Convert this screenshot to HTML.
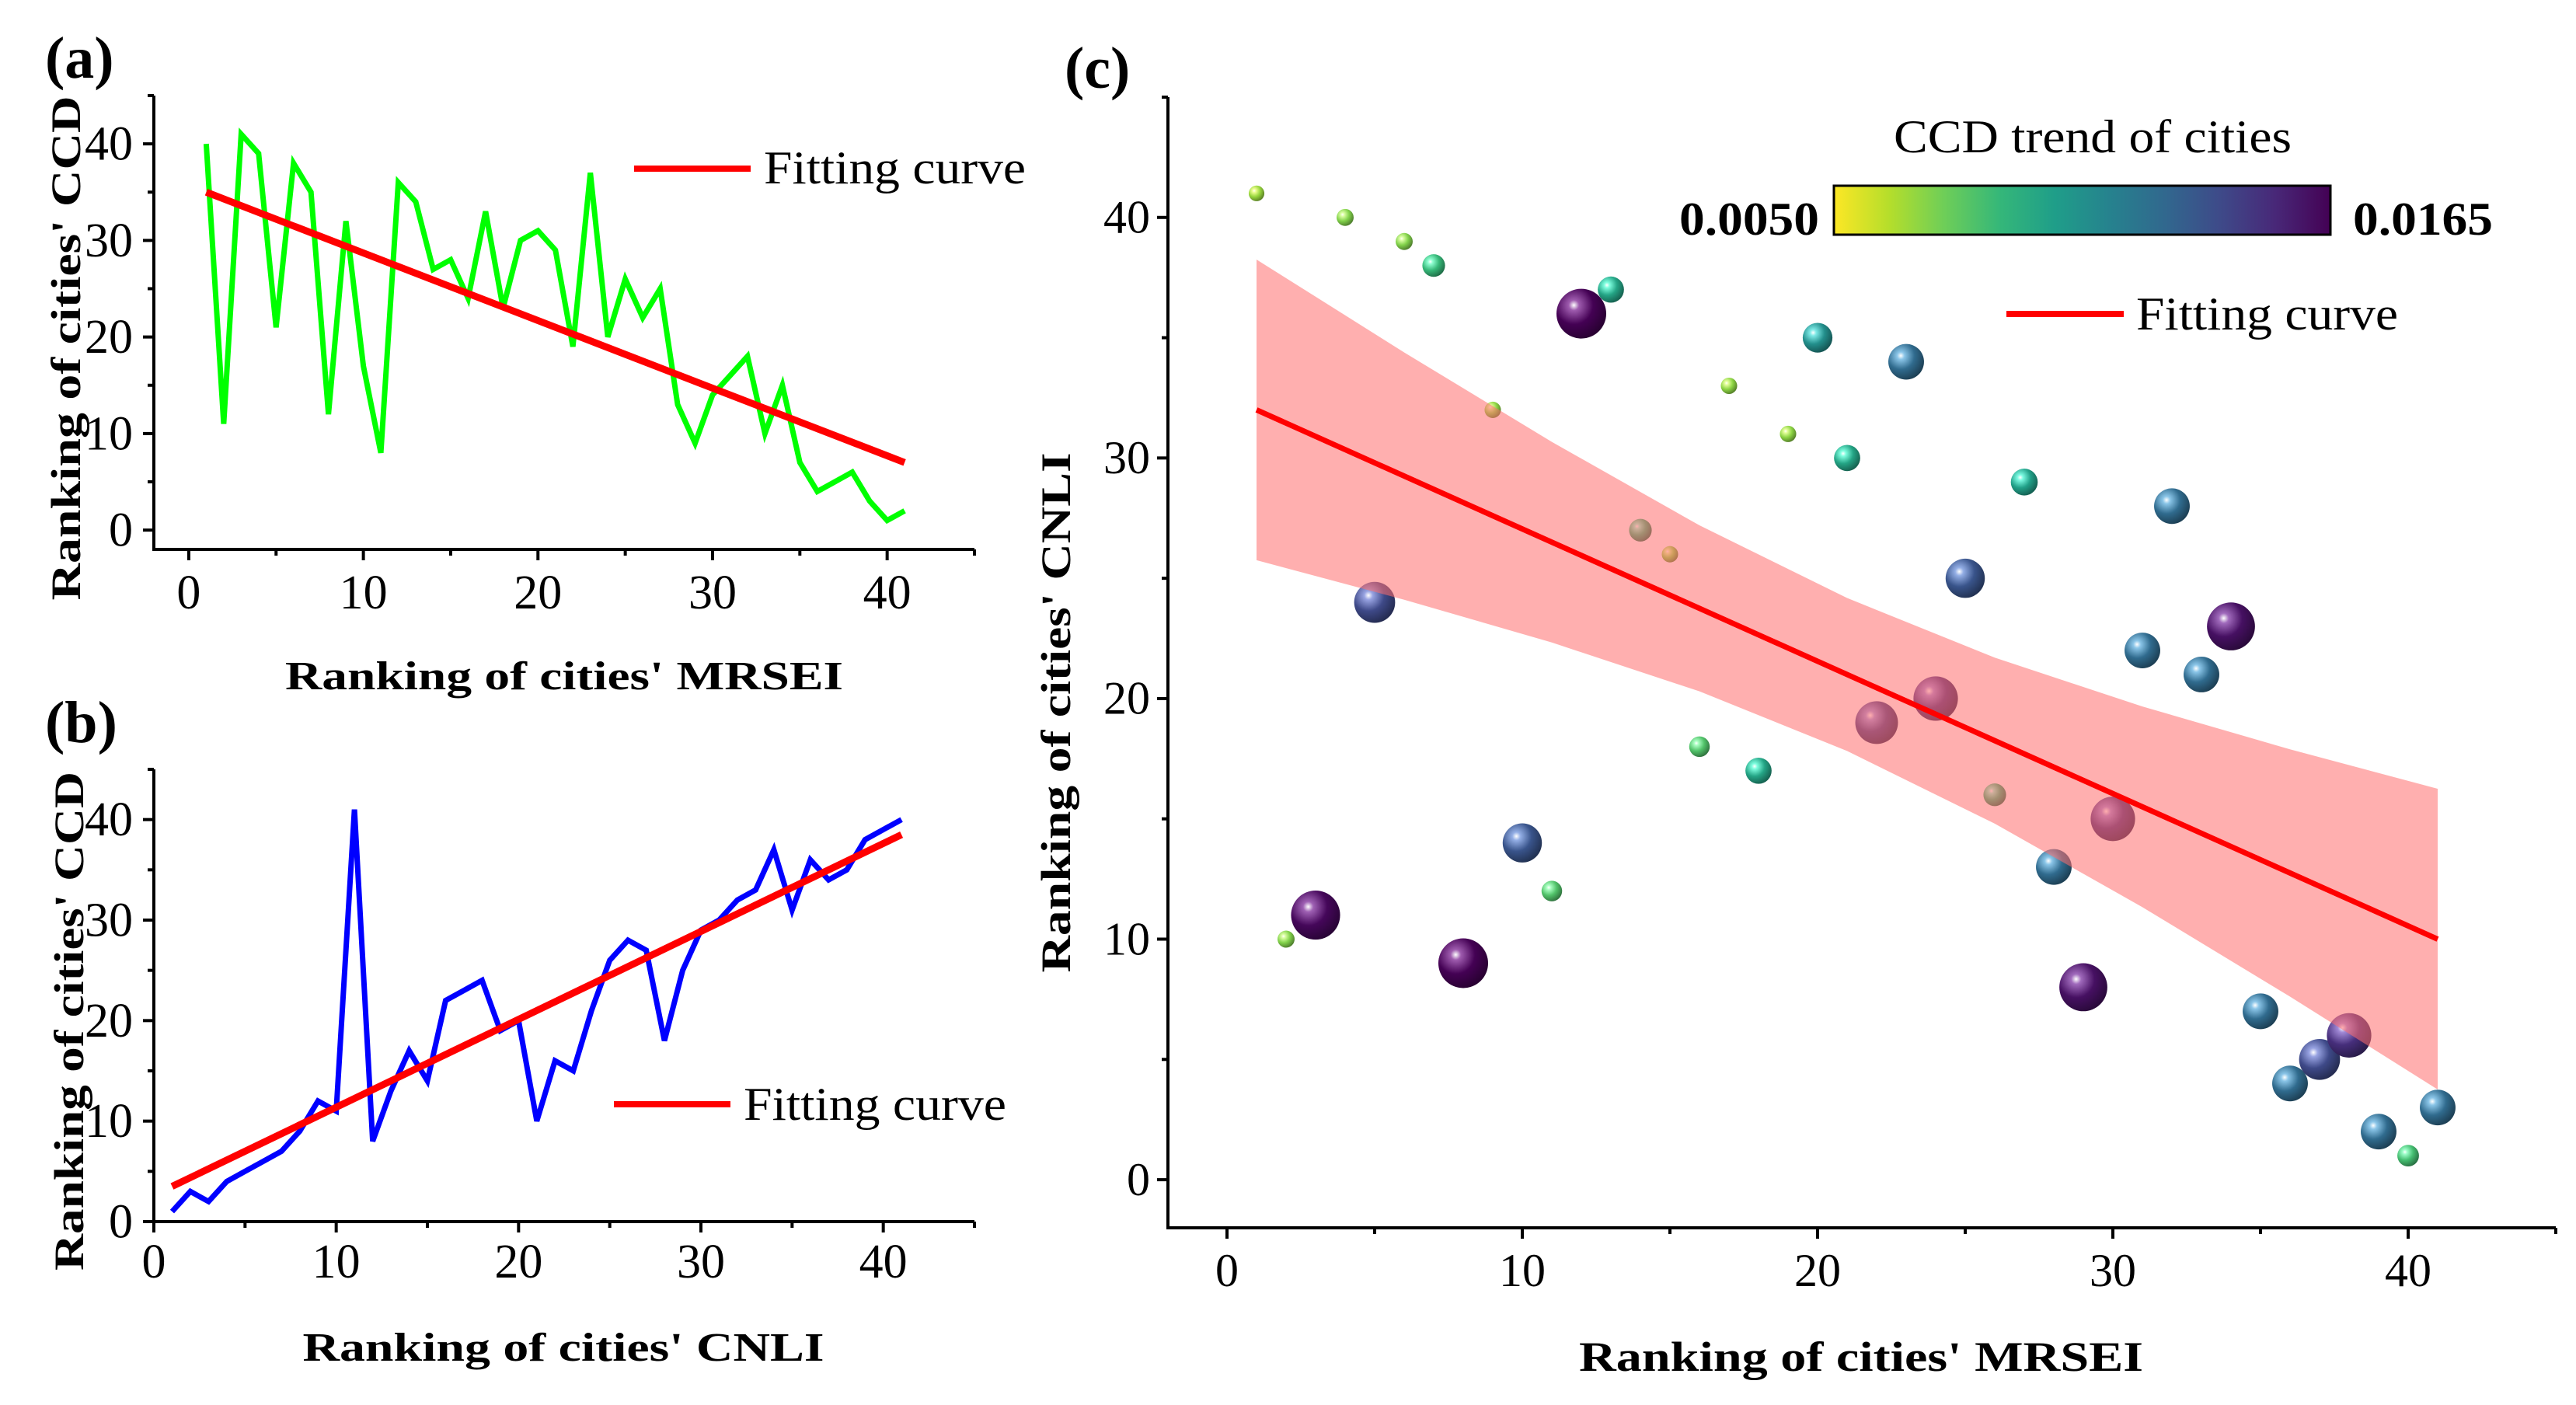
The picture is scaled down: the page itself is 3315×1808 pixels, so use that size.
<!DOCTYPE html>
<html><head><meta charset="utf-8"><style>
html,body{margin:0;padding:0;background:#fff;}
svg{display:block;}
text{font-family:"Liberation Serif",serif;fill:#000;}
</style></head><body>
<svg id="fig" width="3315" height="1808" viewBox="0 0 3315 1808" xmlns="http://www.w3.org/2000/svg">
<defs id="defs"></defs>
</svg>
<script>
// ---- data ----
const xRank = Array.from({length:41},(_, i)=>i+1);
const ccdVsMrsei = [40,11,41,39,21,38,35,12,32,17,8,36,34,27,28,24,33,23,30,31,29,19,37,20,26,22,25,13,9,14,16,18,10,15,7,4,5,6,3,1,2];
const fitA = [[1,35],[41,7]];
const ccdVsCnli = [1,3,2,4,5,6,7,9,12,11,41,8,13,17,14,22,23,24,19,20,10,16,15,21,26,28,27,18,25,29,30,32,33,37,31,36,34,35,38,39,40];
const fitB = [[1,3.5],[41,38.5]];
const cnliRank = [41,10,11,40,24,39,38,9,32,14,12,36,37,27,26,18,33,17,31,35,30,19,34,20,25,16,29,13,8,15,22,28,21,23,7,4,5,6,2,1,3];
const ccdTrend = [0.0068,0.0072,0.0163,0.0072,0.0140,0.0072,0.0088,0.0165,0.0070,0.0135,0.0082,0.0165,0.0098,0.0088,0.0070,0.0082,0.0070,0.0098,0.0070,0.0108,0.0098,0.0145,0.0125,0.0150,0.0135,0.0088,0.0100,0.0125,0.0160,0.0150,0.0125,0.0125,0.0125,0.0160,0.0125,0.0125,0.0140,0.0150,0.0125,0.0085,0.0125];
const fitC = [[1,32],[41,10]];
const bandX = [1,6,11,16,21,26,31,36,41];
const bandLow = [25.75,24.11,22.33,20.30,17.82,14.80,11.33,7.61,3.75];
const bandHigh = [38.25,34.39,30.67,27.20,24.18,21.70,19.67,17.89,16.25];
const tickVals = [0,10,20,30,40];
const minorVals = [5,15,25,35,45];

const NS="http://www.w3.org/2000/svg";
const svg=document.getElementById('fig');
const defs=document.getElementById('defs');
function el(tag,attrs,parent){const e=document.createElementNS(NS,tag);for(const k in attrs)e.setAttribute(k,attrs[k]);(parent||svg).appendChild(e);return e;}
function txt(str,attrs,parent){const e=el('text',attrs,parent);e.setAttribute('font-family','Liberation Serif, serif');e.textContent=str;return e;}

function scale(d0,d1,r0,r1){return v=>r0+(v-d0)/(d1-d0)*(r1-r0);}

function axes(g,X,Y,x0,x1,y0,y1,xd,yd,opt){
  const ax=el('line',{x1:X(xd[0]),y1:Y(yd[0]),x2:X(xd[1]),y2:Y(yd[0]),stroke:'#000','stroke-width':4},g);
  
  const ay=el('line',{x1:X(xd[0]),y1:Y(yd[0])+2,x2:X(xd[0]),y2:Y(yd[1]),stroke:'#000','stroke-width':4},g);
  
  tickVals.forEach(v=>{
    const t=el('line',{x1:X(v),x2:X(v),y1:Y(yd[0]),y2:Y(yd[0])+14,stroke:'#000','stroke-width':4},g);
    
    const l=txt(String(v),{x:X(v),y:opt.xlab,'text-anchor':'middle','font-size':opt.fs},g);
    
    const t2=el('line',{x1:X(xd[0]),x2:X(xd[0])-14,y1:Y(v),y2:Y(v),stroke:'#000','stroke-width':4},g);
    
    const l2=txt(String(v),{x:opt.ylab,y:Y(v)+opt.fs*0.33,'text-anchor':'end','font-size':opt.fs},g);
    
  });
  minorVals.forEach(v=>{
    if(v<=xd[1]){const t=el('line',{x1:X(v),x2:X(v),y1:Y(yd[0]),y2:Y(yd[0])+8,stroke:'#000','stroke-width':4},g);
    }
    if(v<=yd[1]){const t=el('line',{x1:X(xd[0]),x2:X(xd[0])-8,y1:Y(v),y2:Y(v),stroke:'#000','stroke-width':4},g);
    }
  });
}
function title(str,x,y,len,fs,rot,name,g){
  const t=txt(str,{x:x,y:y,'font-size':fs,'font-weight':'bold',textLength:len,lengthAdjust:'spacingAndGlyphs','text-anchor':'middle'},g);
  if(rot)t.setAttribute('transform',`rotate(-90 ${x} ${y})`);
  
}
function legendFit(g,lx0,lx1,ly,tx,ty,tlen){
  const lg=el('g',{},g);
  el('line',{x1:lx0,x2:lx1,y1:ly,y2:ly,stroke:'#ff0000','stroke-width':8},lg);
  txt('Fitting curve',{x:tx,y:ty,'font-size':60,textLength:tlen,lengthAdjust:'spacingAndGlyphs'},lg);
}
function line(g,X,Y,xs,ys,color,w,name){
  const p=el('polyline',{points:xs.map((x,i)=>X(x)+','+Y(ys[i])).join(' '),fill:'none',stroke:color,'stroke-width':w,'stroke-linejoin':'miter'},g);
  
}

// ---- panel a ----
{
const g=el('g',{});
const X=scale(-2,45,198,1254), Y=scale(-2,45,707,123);
axes(g,X,Y,0,0,0,0,[-2,45],[-2,45],{fs:62,xlab:783,ylab:171});
line(g,X,Y,xRank,ccdVsMrsei,'#00ff00',7,'ccd-mrsei-line');
line(g,X,Y,fitA.map(p=>p[0]),fitA.map(p=>p[1]),'#ff0000',9,'fitting-curve-a');
legendFit(g,816,966,217,983,236,337);
title("Ranking of cities' MRSEI",726,887,718,52,false,'x-axis-title-a',g);
title("Ranking of cities' CCD",103,448,649,54,true,'y-axis-title-a',g);
const l=txt('(a)',{x:58,y:100,'font-size':76,'font-weight':'bold'},g);
}
// ---- panel b ----
{
const g=el('g',{});
const X=scale(0,45,198,1254), Y=scale(0,45,1572,990);
axes(g,X,Y,0,0,0,0,[0,45],[0,45],{fs:62,xlab:1644,ylab:171});
line(g,X,Y,xRank,ccdVsCnli,'#0000ff',7,'ccd-cnli-line');
line(g,X,Y,fitB.map(p=>p[0]),fitB.map(p=>p[1]),'#ff0000',9,'fitting-curve-b');
legendFit(g,790,940,1421,957,1441,338);
title("Ranking of cities' CNLI",725,1751,671,52,false,'x-axis-title-b',g);
title("Ranking of cities' CCD",107,1314,642,54,true,'y-axis-title-b',g);
const l=txt('(b)',{x:58,y:955,'font-size':76,'font-weight':'bold'},g);
}
// ---- panel c ----
const vir=[[253,231,37],[181,222,43],[110,206,88],[53,183,121],[31,158,137],[38,130,142],[49,104,142],[62,74,137],[72,40,120],[68,1,84]];
function vcol(t){const f=Math.max(0,Math.min(1,(t-0.005)/0.0115))*(vir.length-1);const i=Math.min(vir.length-2,Math.floor(f));const u=f-i;
 return vir[i].map((c,k)=>Math.round(c+(vir[i+1][k]-c)*u));}
{
const g=el('g',{});
const X=scale(-2,45,1503,3289), Y=scale(-2,45,1580,125);
axes(g,X,Y,0,0,0,0,[-2,45],[-2,45],{fs:60,xlab:1655,ylab:1480});
cnliRank.forEach((y,i)=>{
  const t=ccdTrend[i];const c=vcol(t);
  const gid='sph'+i;
  const rg=el('radialGradient',{id:gid,cx:'0.35',cy:'0.33',r:'0.7'},defs);
  el('stop',{offset:'0','stop-color':'#ffffff'},rg);
  el('stop',{offset:'0.15','stop-color':`rgb(${c.map(v=>Math.min(255,v+90)).join(',')})`},rg);
  el('stop',{offset:'0.55','stop-color':`rgb(${c.join(',')})`},rg);
  el('stop',{offset:'1','stop-color':`rgb(${c.map(v=>Math.round(v*0.6)).join(',')})`},rg);
  const r=6+(t-0.005)/0.0115*26;
  const p=el('circle',{cx:X(xRank[i]),cy:Y(y),r:r,fill:`url(#${gid})`},g);
  
});
const pts=bandX.map((x,i)=>X(x)+','+Y(bandHigh[i])).concat(bandX.slice().reverse().map((x,j)=>X(x)+','+Y(bandLow[bandX.length-1-j])));
const band=el('polygon',{points:pts.join(' '),fill:'#ff6e6e','fill-opacity':0.55},g);

line(g,X,Y,fitC.map(p=>p[0]),fitC.map(p=>p[1]),'#ff0000',7,'fitting-curve-c');
const lg=el('linearGradient',{id:'cbar',x1:'0',x2:'1',y1:'0',y2:'0'},defs);
vir.forEach((c,i)=>el('stop',{offset:i/(vir.length-1),'stop-color':`rgb(${c.join(',')})`},lg));
const cb=el('g',{},g);
el('rect',{x:2360,y:239,width:639,height:63,fill:'url(#cbar)',stroke:'#000','stroke-width':3},cb);
txt('CCD trend of cities',{x:2693,y:196,'font-size':60,'text-anchor':'middle',textLength:512,lengthAdjust:'spacingAndGlyphs'},cb);
txt('0.0050',{x:2341,y:302,'font-size':60,'font-weight':'bold','text-anchor':'end',textLength:180,lengthAdjust:'spacingAndGlyphs'},cb);
txt('0.0165',{x:3028,y:302,'font-size':60,'font-weight':'bold',textLength:180,lengthAdjust:'spacingAndGlyphs'},cb);
legendFit(g,2582,2733,404,2749,424,337);
title("Ranking of cities' MRSEI",2395,1764,726,54,false,'x-axis-title-c',g);
title("Ranking of cities' CNLI",1377,917,669,54,true,'y-axis-title-c',g);
const l=txt('(c)',{x:1370,y:113,'font-size':76,'font-weight':'bold'},g);
}
</script>
</body></html>
